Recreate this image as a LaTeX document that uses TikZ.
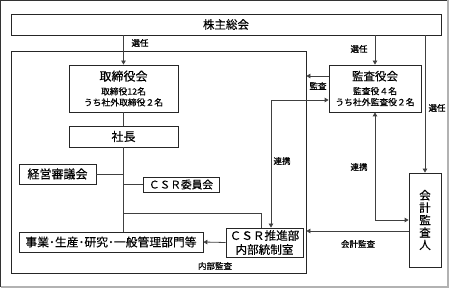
\documentclass[tikz,border=0pt]{standalone}
\usepackage{fontspec}
\newfontfamily\jpfont[FakeBold=0.3]{Noto Sans CJK JP}
\newfontfamily\jplabel[FakeBold=0.8]{Noto Sans CJK JP}
\usetikzlibrary{arrows.meta,positioning}
\newcommand{\subtext}{\fontsize{8.8}{11}\selectfont}

\begin{document}
\begin{tikzpicture}[
			x=1pt,y=-1pt,
			box/.style={
				draw=black!85,
				line width=0.8pt,
				inner sep=0pt,
				align=center,
				font=\jpfont\fontsize{11.5}{11}\selectfont
			},
			lbl/.style={inner sep=0pt,font=\jplabel\fontsize{8.5}{10}\selectfont},
			line/.style={draw=black!75,line width=0.8pt},
			arrow/.style={line,-{Triangle[length=4pt,width=4.5pt]}},
			twoway/.style={line,{Triangle[length=4pt,width=4.5pt]}-{Triangle[length=4pt,width=4.5pt]}}
			]
			
			\useasboundingbox (0,0) rectangle (452,288);
			\draw[black!80,line width=1pt] (0.5,287) |- (448,0.5);
			\draw[black!30,line width=1.5pt] (448,0.5) |- (0.5,287);
			
			\node[box,minimum width=295,minimum height=222] (company) at (158.5,162) {};
			
			\node[box,minimum width=430,minimum height=21] (meeting) at (226,24.5) {株主総会};
			
			\node[box,minimum width=109,minimum height=47] (board) at (123.5,88.5)
			{\fontsize{12}{11}\selectfont 取締役会\\[3pt] {\subtext 取締役12名}\\ {\subtext うち社外取締役２名}};
			
			\node[box,minimum width=109,minimum height=21,font=\jpfont\fontsize{12}{11}\selectfont] (president) at (123.5,136.5) {社長};
			
			\node[box,minimum width=92,minimum height=47] (auditors) at (375,88.5)
			{監査役会\\[3pt] {\subtext 監査役４名}\\ {\subtext うち社外監査役２名}};
			
			\node[box,minimum width=32,minimum height=94,font=\jpfont\fontsize{11.5}{12.4}\selectfont] (accountant) at (425,220)
			{会\\計\\監\\査\\人};
			
			\node[box,minimum width=77,minimum height=20,font=\jpfont\fontsize{12}{11}\selectfont] (council) at (57.5,174) {経営審議会};
			
			\node[box,minimum width=76,minimum height=15,font=\jpfont\fontsize{10.7}{11}\selectfont] (csrcommittee) at (181,184.5) {ＣＳＲ委員会};
			
			\node[box,minimum width=184,minimum height=20,font=\jpfont\fontsize{11.8}{11}\selectfont] (divisions) at (111,242) {事業･生産･研究･一般管理部門等};
			
			\node[box,minimum width=77,minimum height=29,font=\jpfont\fontsize{11.6}{14}\selectfont] (csr) at (264.5,242.5)
			{ＣＳＲ推進部\\内部統制室};
			
			% election
			\draw[arrow] (meeting.south -| board) -- (board.north);
			\draw[arrow] (meeting.south -| auditors) -- (auditors.north);
			\draw[arrow] (meeting.south -| accountant) -- (accountant.north);
			\node[lbl] (elect1) at (140,43) {選任};
			\node[lbl] (elect2) at (359,49) {選任};
			\node[lbl] (elect3) at (437,108) {選任};
			
			% organisation tree
			\draw[line] (board.south) -- (president.north);
			\draw[line] (president.south) -- (president.south |- divisions.north);
			\draw[line] (council.east) -- (council.east -| president);
			\draw[line] (csrcommittee.west) -- (csrcommittee.west -| president);
			\draw[line] (president.south |- 0,213) -| ([xshift=-3.5pt]csr.north);
			
			% audit and cooperation
			\draw[arrow] ([yshift=12.5pt]auditors.west) -- (company.east |- 0,76);
			\node[lbl] (audit) at (318,86) {監査};
			
			\draw[twoway] ([xshift=6.5pt]csr.north) |- ([yshift=-11.5pt]auditors.west);
			\node[lbl] (coop1) at (282,161) {連携};
			
			\draw[twoway] (auditors.south) |- (accountant.west);
			\node[lbl] (coop2) at (359,167) {連携};
			
			\draw[arrow] ([yshift=-11pt]accountant.west) -- (company.east |- 0,231);
			\node[lbl] (acctaudit) at (358,244) {会計監査};
			
			\draw[arrow] (csr.west) -- (divisions.east);
			\node[lbl] (internal) at (215,266) {内部監査};
			
		\end{tikzpicture}
\end{document}
